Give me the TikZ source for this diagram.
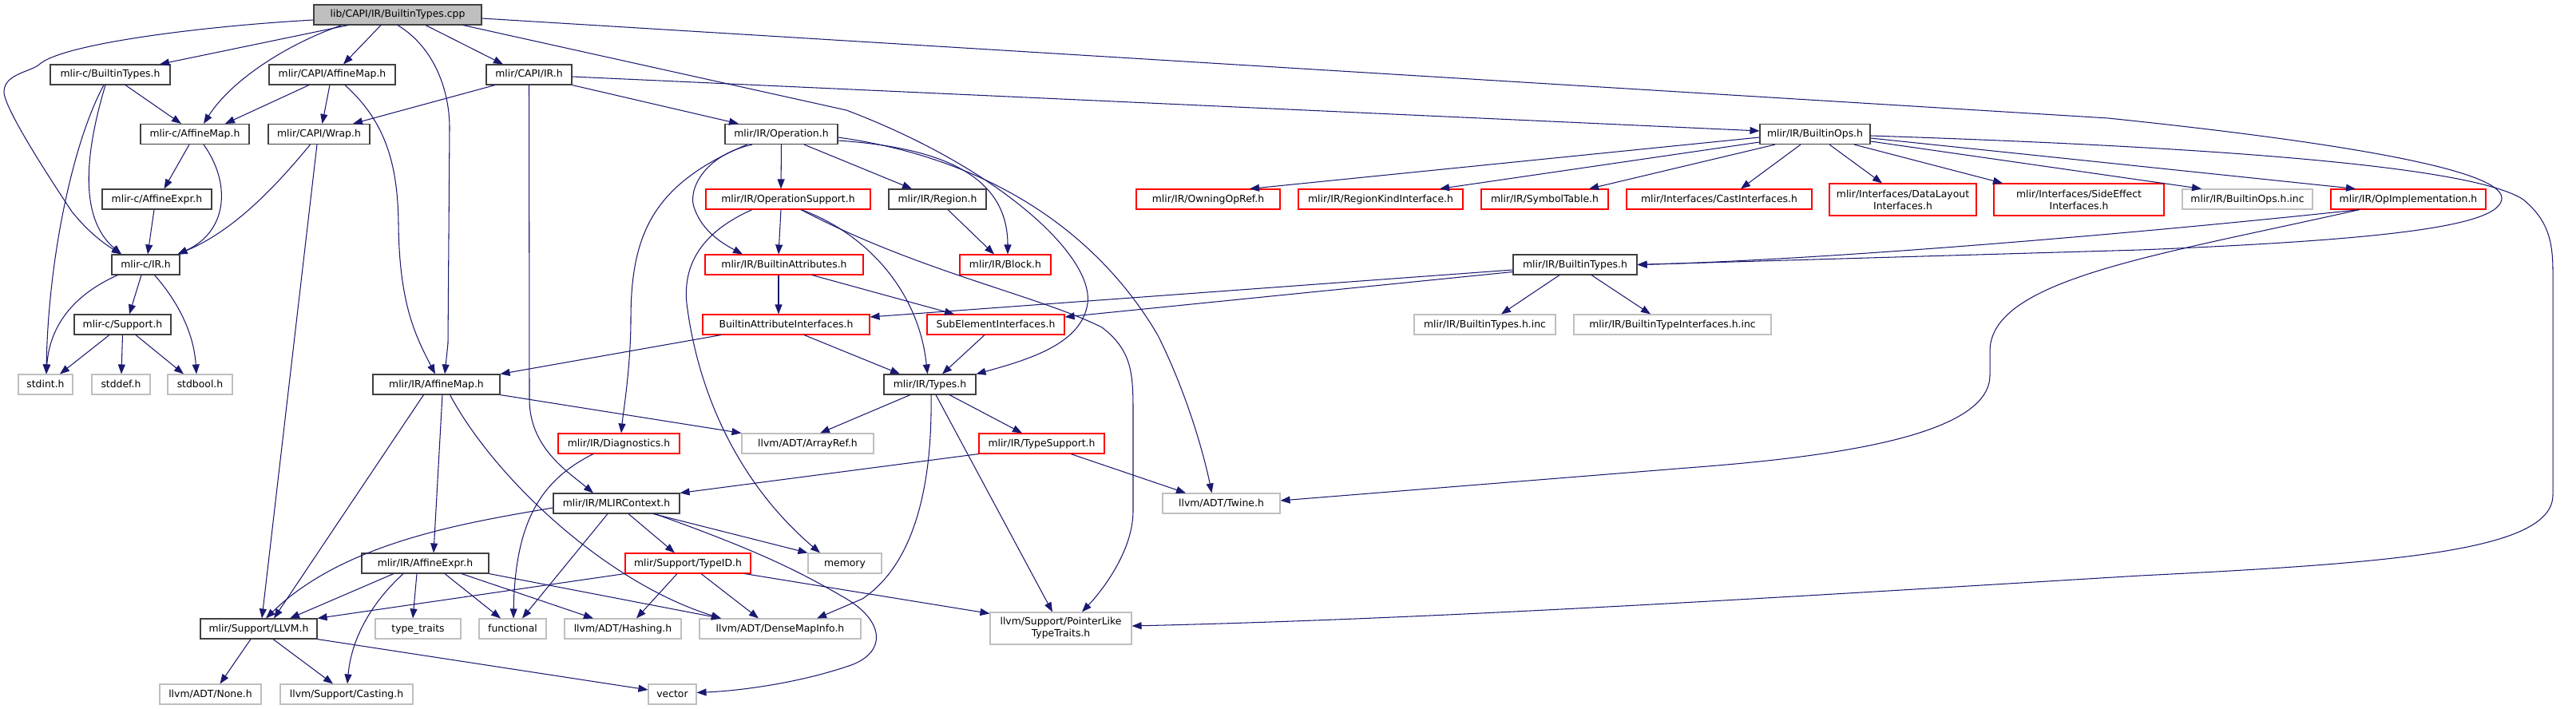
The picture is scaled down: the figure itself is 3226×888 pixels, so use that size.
\documentclass[tikz,border=0pt]{standalone}
\usepackage{fontspec}
\setmainfont{DejaVu Sans}
\usetikzlibrary{arrows.meta}
\definecolor{edgec}{HTML}{191970}
\definecolor{grayb}{HTML}{BFBFBF}
\definecolor{rootf}{HTML}{BFBFBF}
\definecolor{darkb}{HTML}{404040}
\begin{document}
\begin{tikzpicture}[x=1pt,y=-1pt,
  box/.style={draw, line width=1.1pt, inner sep=0pt, font=\fontsize{12.4pt}{15pt}\selectfont},
  one/.style={minimum height=25pt, text height=9.2pt, text depth=2.2pt},
  bk/.style={box, one, draw=darkb},
  rd/.style={box, one, draw=red},
  gy/.style={box, one, draw=grayb},
  rd2/.style={box, draw=red, align=center, minimum height=40pt},
  gy2/.style={box, draw=grayb, align=center, minimum height=40pt},
  e/.style={draw=edgec, line width=1.05pt, -{Triangle[length=12pt,width=9pt]}}]
\useasboundingbox (0,0) rectangle (3226,888);
% nodes
\node[bk, fill=rootf, minimum width=210pt] (root) at (498,18.5) {lib/CAPI/IR/BuiltinTypes.cpp};
\node[bk, minimum width=150pt] (cbt) at (138,93.5) {mlir-c/BuiltinTypes.h};
\node[bk, minimum width=158pt] (capiam) at (416,93.5) {mlir/CAPI/AffineMap.h};
\node[bk, minimum width=107pt] (capiir) at (662.5,93.5) {mlir/CAPI/IR.h};
\node[bk, minimum width=136pt] (cam) at (244,168) {mlir-c/AffineMap.h};
\node[bk, minimum width=127pt] (wrap) at (399.5,168) {mlir/CAPI/Wrap.h};
\node[bk, minimum width=141pt] (op) at (978.5,168) {mlir/IR/Operation.h};
\node[bk, minimum width=138pt] (bops) at (2273,168) {mlir/IR/BuiltinOps.h};
\node[bk, minimum width=137pt] (cae) at (196.5,249.5) {mlir-c/AffineExpr.h};
\node[rd, minimum width=206pt] (opsup) at (987,249.5) {mlir/IR/OperationSupport.h};
\node[bk, minimum width=122pt] (region) at (1174,249.5) {mlir/IR/Region.h};
\node[rd, minimum width=180pt] (owning) at (1513,249.5) {mlir/IR/OwningOpRef.h};
\node[rd, minimum width=206pt] (rki) at (1729,249.5) {mlir/IR/RegionKindInterface.h};
\node[rd, minimum width=159pt] (symtab) at (1934.5,249.5) {mlir/IR/SymbolTable.h};
\node[rd, minimum width=232pt] (cast) at (2153,249.5) {mlir/Interfaces/CastInterfaces.h};
\node[rd2, minimum width=184pt] (dl) at (2383,250) {mlir/Interfaces/DataLayout\\Interfaces.h};
\node[rd2, minimum width=213pt] (se) at (2603.5,250) {mlir/Interfaces/SideEffect\\Interfaces.h};
\node[gy, minimum width=163pt] (bopsinc) at (2814.5,249.5) {mlir/IR/BuiltinOps.h.inc};
\node[rd, minimum width=194pt] (opimpl) at (3016,249.5) {mlir/IR/OpImplementation.h};
\node[bk, minimum width=85pt] (cir) at (182.5,331.5) {mlir-c/IR.h};
\node[rd, minimum width=198pt] (battr) at (982,331.5) {mlir/IR/BuiltinAttributes.h};
\node[rd, minimum width=114pt] (block) at (1259,331.5) {mlir/IR/Block.h};
\node[bk, minimum width=155pt] (btypes) at (1972.5,331.5) {mlir/IR/BuiltinTypes.h};
\node[bk, minimum width=121pt] (csup) at (153.5,406.5) {mlir-c/Support.h};
\node[rd, minimum width=209pt] (bai) at (984.5,406.5) {BuiltinAttributeInterfaces.h};
\node[rd, minimum width=172pt] (sei) at (1247,406.5) {SubElementInterfaces.h};
\node[gy, minimum width=177pt] (btinc) at (1859.5,406.5) {mlir/IR/BuiltinTypes.h.inc};
\node[gy, minimum width=247pt] (btiinc) at (2094.5,406.5) {mlir/IR/BuiltinTypeInterfaces.h.inc};
\node[gy, minimum width=68pt] (stdint) at (57,481.5) {stdint.h};
\node[gy, minimum width=73pt] (stddef) at (151.5,481.5) {stddef.h};
\node[gy, minimum width=81pt] (stdbool) at (250.5,481.5) {stdbool.h};
\node[bk, minimum width=159pt] (amap) at (546.5,481.5) {mlir/IR/AffineMap.h};
\node[bk, minimum width=115pt] (types) at (1164.5,481.5) {mlir/IR/Types.h};
\node[rd, minimum width=152pt] (diag) at (775,555.5) {mlir/IR/Diagnostics.h};
\node[gy, minimum width=165pt] (arrayref) at (1011.5,555.5) {llvm/ADT/ArrayRef.h};
\node[rd, minimum width=157pt] (typesup) at (1304.5,555.5) {mlir/IR/TypeSupport.h};
\node[bk, minimum width=158pt] (ctx) at (772,630.5) {mlir/IR/MLIRContext.h};
\node[gy, minimum width=147pt] (twine) at (1529.5,630.5) {llvm/ADT/Twine.h};
\node[bk, minimum width=159pt] (aexpr) at (532.5,705.5) {mlir/IR/AffineExpr.h};
\node[rd, minimum width=157pt] (typeid) at (861.5,705.5) {mlir/Support/TypeID.h};
\node[gy, minimum width=92pt] (memory) at (1058,705.5) {memory};
\node[bk, minimum width=146pt] (llvm) at (324,787.5) {mlir/Support/LLVM.h};
\node[gy, minimum width=107pt] (ttraits) at (523.5,787.5) {type\_traits};
\node[gy, minimum width=84pt] (functional) at (642,787.5) {functional};
\node[gy, minimum width=146pt] (hashing) at (780,787.5) {llvm/ADT/Hashing.h};
\node[gy, minimum width=202pt] (dmi) at (977,787.5) {llvm/ADT/DenseMapInfo.h};
\node[gy2, minimum width=177pt] (plt) at (1328.5,787) {llvm/Support/PointerLike\\TypeTraits.h};
\node[gy, minimum width=127pt] (none) at (263.5,869.5) {llvm/ADT/None.h};
\node[gy, minimum width=166pt] (casting) at (434,869.5) {llvm/Support/Casting.h};
\node[gy, minimum width=60pt] (vector) at (842,869.5) {vector};
% edges from root
\draw[e] ([yshift=-6.5pt]root.west) .. controls (250,33) and (80,55) .. (50,80) .. controls (40,90) and (5,92) .. (5,115) .. controls (5,135) and (60,220) .. (90,265) .. controls (110,290) and (130,305) .. ([xshift=-30.5pt]cir.north);
\draw[e] ([xshift=-62pt]root.south) -- ([xshift=62pt]cbt.north);
\draw[e] ([xshift=-70pt]root.south) .. controls (360,55) and (290,100) .. ([xshift=11pt]cam.north);
\draw[e] ([xshift=-21pt]root.south) -- ([xshift=14pt]capiam.north);
\draw[e] ([xshift=35pt]root.south) -- ([xshift=-32.5pt]capiir.north);
\draw[e] (root.south) .. controls (545,60) and (563,115) .. (563,160) -- (561,430) -- ([xshift=10.5pt]amap.north);
\draw[e] ([xshift=82pt]root.south) -- (1060,138) .. controls (1250,210) and (1370,320) .. (1362,380) .. controls (1355,430) and (1290,450) .. ([xshift=58pt]types.north);
\draw[e] ([yshift=-4.5pt]root.east) -- (2640,148) .. controls (2900,175) and (3133,210) .. (3133,248) .. controls (3133,282) and (3000,300) .. (2680,313) -- (btypes.east);
% CAPI/IR.h
\draw[e] ([yshift=-2.5pt]capiir.east) -- ([yshift=4pt]bops.west);
\draw[e] ([xshift=-42.5pt]capiir.south) -- ([xshift=42.5pt]wrap.north);
\draw[e] (capiir.south east) -- ([xshift=-53.5pt]op.north);
\draw[e] (capiir.south) -- (663,500) .. controls (663,560) and (710,590) .. ([xshift=-29pt]ctx.north);
% CAPI/AffineMap.h
\draw[e] ([xshift=-29pt]capiam.south) -- ([xshift=38pt]cam.north);
\draw[e] ([xshift=-3pt]capiam.south) -- ([xshift=4pt]wrap.north);
\draw[e] ([xshift=16pt]capiam.south) .. controls (480,150) and (498,200) .. (499,280) .. controls (500,380) and (520,420) .. ([xshift=-1.5pt]amap.north);
% mlir-c/BuiltinTypes.h
\draw[e] ([xshift=19pt]cbt.south) -- ([xshift=-17pt]cam.north);
\draw[e] ([xshift=-6pt]cbt.south) .. controls (110,180) and (95,270) .. ([xshift=-30.5pt]cir.north);
\draw[e] ([xshift=-8pt]cbt.south) .. controls (90,180) and (60,330) .. ([xshift=1pt]stdint.north);
% mlir-c/AffineMap.h
\draw[e] ([xshift=-7pt]cam.south) -- ([xshift=9pt]cae.north);
\draw[e] ([xshift=11pt]cam.south) .. controls (290,230) and (285,290) .. ([xshift=40pt]cir.north);
\draw[e] ([xshift=-3.5pt]cae.south) -- ([xshift=2.5pt]cir.north);
% Wrap.h
\draw[e] ([xshift=-11pt]wrap.south) .. controls (340,240) and (290,290) .. ([xshift=40pt]cir.north);
\draw[e] ([xshift=-2.5pt]wrap.south) -- ([xshift=4pt]llvm.north);
% mlir-c/IR.h
\draw[e] ([xshift=-5.5pt]cir.south) -- ([xshift=8.5pt]csup.north);
\draw[e] ([xshift=-35pt]cir.south) .. controls (90,370) and (62,410) .. ([xshift=1pt]stdint.north);
\draw[e] ([xshift=11pt]cir.south) .. controls (225,380) and (243,420) .. ([xshift=-4.5pt]stdbool.north);
% Support.h
\draw[e] ([xshift=-16.5pt]csup.south) -- ([xshift=18pt]stdint.north);
\draw[e] (csup.south) -- ([xshift=0.5pt]stddef.north);
\draw[e] ([xshift=16.5pt]csup.south) -- ([xshift=-20.5pt]stdbool.north);
% Operation.h
\draw[e] (op.south) -- ([xshift=-9pt]opsup.north);
\draw[e] ([xshift=28.5pt]op.south) -- ([xshift=-32pt]region.north);
\draw[e] ([yshift=-8pt]op.east) .. controls (1180,185) and (1262,220) .. ([xshift=3pt]block.north);
\draw[e] ([yshift=-4pt]op.east) .. controls (1250,200) and (1380,300) .. (1450,420) .. controls (1490,500) and (1510,580) .. ([xshift=-12pt]twine.north);
\draw[e] ([xshift=-36.5pt]op.south) .. controls (880,195) and (860,240) .. (870,262) .. controls (880,290) and (905,305) .. ([xshift=-52pt]battr.north);
\draw[e] ([xshift=-43pt]op.south) .. controls (820,230) and (790,290) .. (790,400) .. controls (790,460) and (780,520) .. ([xshift=3pt]diag.north);
% OperationSupport.h
\draw[e] ([xshift=-9pt]opsup.south) -- ([xshift=-7pt]battr.north);
\draw[e] ([xshift=16pt]opsup.south) .. controls (1080,290) and (1150,360) .. ([xshift=-3pt]types.north);
\draw[e] ([xshift=16pt]opsup.south) .. controls (1150,340) and (1300,370) .. (1380,410) .. controls (1419,440) and (1419,470) .. (1419,520) -- (1419,640) .. controls (1419,690) and (1380,740) .. ([xshift=26.5pt]plt.north);
\draw[e] ([xshift=-45pt]opsup.south) .. controls (880,290) and (855,330) .. (860,380) .. controls (875,500) and (930,610) .. ([xshift=-31pt]memory.north);
% BuiltinAttributes.h
\draw[e] ([xshift=-7pt]battr.south) -- ([xshift=-9.5pt]bai.north);
\draw[e] ([xshift=35pt]battr.south) -- ([xshift=-52pt]sei.north);
% BuiltinAttributeInterfaces.h
\draw[e] ([xshift=-81.5pt]bai.south) -- (amap.north east);
\draw[e] ([xshift=22.5pt]bai.south) -- ([xshift=-37.5pt]types.north);
% Region.h / SubElementInterfaces.h
\draw[e] ([xshift=13pt]region.south) -- ([xshift=-14pt]block.north);
\draw[e] ([xshift=-14pt]sei.south) -- ([xshift=15.5pt]types.north);
% BuiltinOps.h
\draw[e] ([yshift=-4pt]bops.west) -- ([xshift=52pt]owning.north);
\draw[e] ([yshift=-10pt]bops.west) -- ([xshift=74pt]rki.north);
\draw[e] ([xshift=-50pt]bops.south) -- ([xshift=55.5pt]symtab.north);
\draw[e] ([xshift=-18pt]bops.south) -- ([xshift=27pt]cast.north);
\draw[e] ([xshift=18pt]bops.south) -- ([xshift=-26pt]dl.north);
\draw[e] ([xshift=49pt]bops.south) -- ([xshift=-95.5pt]se.north);
\draw[e] ([yshift=-9pt]bops.east) -- ([xshift=-57.5pt]bopsinc.north);
\draw[e] ([yshift=-5pt]bops.east) -- ([xshift=-66pt]opimpl.north);
\draw[e] ([yshift=-2pt]bops.east) .. controls (2800,185) and (3100,210) .. (3160,250) .. controls (3190,275) and (3197,300) .. (3197,340) -- (3197,620) .. controls (3197,690) and (3000,705) .. (2680,721) .. controls (2200,750) and (1800,775) .. ([yshift=3pt]plt.east);
% OpImplementation.h
\draw[e] ([xshift=-61pt]opimpl.south) .. controls (2700,290) and (2300,325) .. (btypes.east);
\draw[e] ([xshift=-61pt]opimpl.south) .. controls (2700,320) and (2492,350) .. (2492,440) -- (2492,470) .. controls (2492,545) and (2300,572) .. (2113,586) -- ([yshift=3.5pt]twine.east);
% BuiltinTypes.h
\draw[e] ([yshift=-6.5pt]btypes.west) -- ([yshift=9.5pt]bai.east);
\draw[e] ([yshift=-9pt]btypes.west) -- ([yshift=9.5pt]sei.east);
\draw[e] ([xshift=-19.5pt]btypes.south) -- ([xshift=20.5pt]btinc.north);
\draw[e] ([xshift=20.5pt]btypes.south) -- ([xshift=-27.5pt]btiinc.north);
% IR/AffineMap.h
\draw[e] (amap.south east) -- (arrayref.north west);
\draw[e] ([xshift=7.5pt]amap.south) -- ([xshift=10.5pt]aexpr.north);
\draw[e] ([xshift=-16pt]amap.south) -- ([xshift=19pt]llvm.north);
\draw[e] ([xshift=17pt]amap.south) .. controls (620,600) and (760,730) .. ([xshift=-74pt]dmi.north);
% IR/AffineExpr.h
\draw[e] ([xshift=-39.5pt]aexpr.south) -- ([xshift=39pt]llvm.north);
\draw[e] ([xshift=-10.5pt]aexpr.south) -- ([xshift=-6.5pt]ttraits.north);
\draw[e] ([xshift=24.5pt]aexpr.south) -- ([xshift=-15pt]functional.north);
\draw[e] ([xshift=45.5pt]aexpr.south) -- ([xshift=-37pt]hashing.north);
\draw[e] (aexpr.south east) -- ([xshift=-74pt]dmi.north);
\draw[e] ([xshift=-27.5pt]aexpr.south) .. controls (465,755) and (440,800) .. ([xshift=1pt]casting.north);
% LLVM.h
\draw[e] ([xshift=-10pt]llvm.south) -- ([xshift=12pt]none.north);
\draw[e] ([xshift=18pt]llvm.south) -- ([xshift=-17pt]casting.north);
\draw[e] (llvm.south east) -- ([yshift=5.5pt]vector.west);
% MLIRContext.h
\draw[e] ([xshift=-11pt]ctx.south) -- ([xshift=12pt]functional.north);
\draw[e] ([xshift=15pt]ctx.south) -- ([xshift=-16.5pt]typeid.north);
\draw[e] ([xshift=46pt]ctx.south) -- (memory.north west);
\draw[e] ([xshift=48pt]ctx.south) .. controls (950,690) and (1000,715) .. (1060,750) .. controls (1110,780) and (1110,820) .. (1060,835) .. controls (1000,855) and (930,865) .. ([yshift=2pt]vector.east);
\draw[e] ([yshift=-5.5pt]ctx.west) .. controls (580,655) and (430,680) .. ([xshift=9pt]llvm.north);
% TypeID.h
\draw[e] ([xshift=-13.5pt]typeid.south) -- ([xshift=17pt]hashing.north);
\draw[e] ([xshift=16.5pt]typeid.south) -- ([xshift=-27pt]dmi.north);
\draw[e] ([xshift=-8pt]typeid.south east) -- ([yshift=-2pt]plt.north west);
\draw[e] (typeid.south west) -- (llvm.north east);
% Types.h
\draw[e] ([xshift=-24.5pt]types.south) -- ([xshift=15.5pt]arrayref.north);
\draw[e] ([xshift=24.5pt]types.south) -- ([xshift=-24.5pt]typesup.north);
\draw[e] ([xshift=7.5pt]types.south) -- ([xshift=-10.5pt]plt.north);
\draw[e] ([xshift=1.5pt]types.south) .. controls (1168,620) and (1140,710) .. (1080,750) -- ([xshift=46pt]dmi.north);
% TypeSupport.h
\draw[e] (typesup.south west) -- (ctx.north east);
\draw[e] ([xshift=36.5pt]typesup.south) -- ([xshift=-44.5pt]twine.north);
% Diagnostics.h
\draw[e] ([xshift=-32pt]diag.south) .. controls (680,600) and (645,650) .. ([xshift=1pt]functional.north);
\end{tikzpicture}
\end{document}
